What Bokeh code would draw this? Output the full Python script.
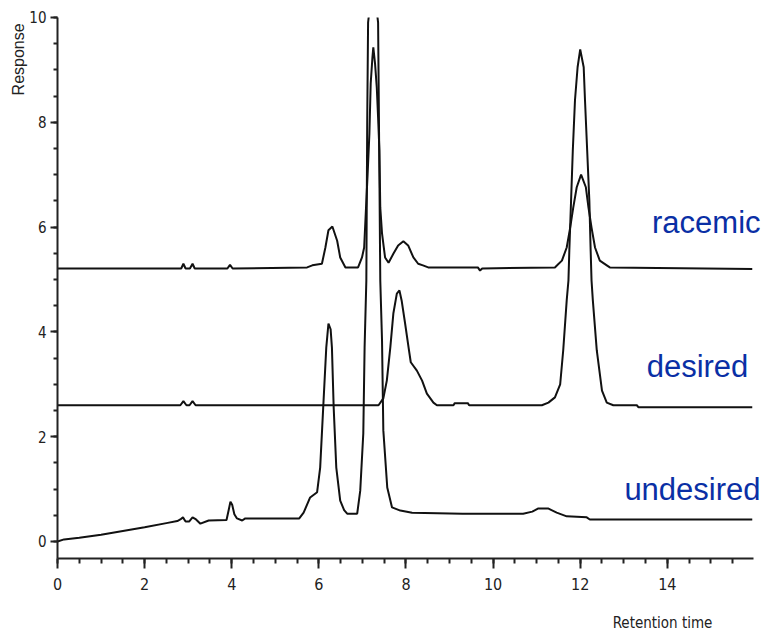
import math
from bokeh.plotting import figure
from bokeh.models import Label, FixedTicker, BoxAnnotation
from bokeh.embed import file_html
from bokeh.resources import INLINE

# ---- data (off-scale apex kept just above 10) ----
undesired_x = [0, 0.15, 0.5, 1.0, 1.5, 2.0, 2.5, 2.75, 2.82, 2.88,
               2.94, 3.02, 3.1, 3.18, 3.28, 3.47, 3.88, 3.93, 3.97, 4.01,
               4.06, 4.12, 4.24, 4.31, 5.55, 5.65, 5.8, 5.96, 6.03, 6.1,
               6.17, 6.22, 6.27, 6.3, 6.34, 6.4, 6.49, 6.58, 6.65, 6.88,
               6.95, 7.02, 7.05, 7.09, 7.11, 7.13, 7.17, 7.25, 7.32, 7.36,
               7.39, 7.41, 7.45, 7.48, 7.57, 7.68, 7.87, 8.14, 9.3, 10.69,
               10.9, 11.04, 11.26, 11.46, 11.69, 12.15, 12.22, 15.95]
undesired_y = [0.0, 0.04, 0.07, 0.13, 0.2, 0.27, 0.35, 0.39, 0.42, 0.46,
               0.38, 0.38, 0.46, 0.42, 0.34, 0.4, 0.41, 0.6, 0.76, 0.7,
               0.52, 0.44, 0.4, 0.44, 0.44, 0.55, 0.84, 0.94, 1.41, 2.56,
               3.7, 4.16, 4.05, 3.7, 2.56, 1.41, 0.78, 0.6, 0.53, 0.53,
               0.97, 2.06, 3.7, 4.98, 8.0, 9.9, 10.2, 10.25, 10.2, 9.9,
               7.0, 4.98, 3.84, 2.12, 1.03, 0.65, 0.59, 0.55, 0.53, 0.53,
               0.57, 0.63, 0.63, 0.55, 0.48, 0.46, 0.42, 0.42]

desired_x = [0, 2.82, 2.89, 2.96, 3.03, 3.1, 3.17, 7.37, 7.48, 7.56,
             7.64, 7.71, 7.79, 7.85, 7.9, 7.98, 8.06, 8.11, 8.25, 8.37,
             8.48, 8.63, 8.71, 9.09, 9.12, 9.42, 9.45, 11.12, 11.27, 11.42,
             11.54, 11.61, 11.69, 11.73, 11.75, 11.79, 11.83, 11.88, 11.94, 12.0,
             12.08, 12.11, 12.16, 12.21, 12.24, 12.26, 12.29, 12.38, 12.5, 12.61,
             12.76, 13.3, 13.34, 15.95]
desired_y = [2.6, 2.6, 2.68, 2.6, 2.6, 2.68, 2.6, 2.6, 2.73, 3.07,
             3.7, 4.35, 4.73, 4.79, 4.6, 4.16, 3.7, 3.42, 3.26, 3.07,
             2.82, 2.65, 2.6, 2.6, 2.64, 2.64, 2.6, 2.6, 2.65, 2.75,
             3.0, 3.65, 4.6, 4.98, 5.55, 6.5, 7.46, 8.42, 9.05, 9.39,
             9.05, 8.42, 7.46, 6.5, 5.55, 4.98, 4.6, 3.65, 2.88, 2.65,
             2.6, 2.6, 2.56, 2.56]

racemic_x = [0, 2.84, 2.89, 2.94, 3.04, 3.1, 3.15, 3.9, 3.96, 4.02,
             5.73, 5.85, 6.07, 6.15, 6.22, 6.31, 6.42, 6.49, 6.61, 6.9,
             6.99, 7.04, 7.09, 7.12, 7.16, 7.19, 7.23, 7.25, 7.29, 7.33,
             7.36, 7.39, 7.41, 7.45, 7.52, 7.6, 7.71, 7.82, 7.94, 8.05,
             8.17, 8.28, 8.39, 8.51, 9.65, 9.7, 9.75, 11.42, 11.47, 11.58,
             11.69, 11.77, 11.84, 11.92, 12.02, 12.13, 12.19, 12.26, 12.34, 12.45,
             12.61, 12.68, 15.95]
racemic_y = [5.21, 5.21, 5.3, 5.21, 5.21, 5.3, 5.21, 5.21, 5.28, 5.21,
             5.23, 5.27, 5.3, 5.61, 5.94, 6.01, 5.74, 5.42, 5.23, 5.23,
             5.42, 5.61, 6.5, 7.02, 7.78, 8.74, 9.24, 9.43, 9.12, 8.66,
             8.09, 7.46, 6.37, 5.88, 5.42, 5.32, 5.49, 5.65, 5.73, 5.65,
             5.42, 5.3, 5.27, 5.23, 5.23, 5.17, 5.21, 5.23, 5.27, 5.36,
             5.61, 5.99, 6.37, 6.76, 7.0, 6.76, 6.37, 5.99, 5.61, 5.36,
             5.27, 5.23, 5.2]

x_major = [0, 2, 4, 6, 8, 10, 12, 14]
x_minor = [0.5 * i for i in range(0, 32)]
y_major = [0, 2, 4, 6, 8, 10]
y_minor = [0.5 * i for i in range(0, 21)]

trace_labels = ["racemic", "desired", "undesired"]
x_title = "Retention time"
y_title = "Response"

NARROW = "'Liberation Sans Narrow', 'Arial Narrow', 'DejaVu Sans Condensed', sans-serif"
SANS = "'Liberation Sans', Arial, sans-serif"
BLUE = "#0a2fa5"
INK = "#222222"

# frame spans the full canvas; axes are pinned at fixed data locations
p = figure(width=763, height=631, x_range=(-1.309, 16.208), y_range=(-1.718, 10.324),
           output_backend="svg", toolbar_location=None,
           min_border_left=0, min_border_right=0, min_border_top=0, min_border_bottom=0)
p.outline_line_color = None
p.xgrid.visible = False
p.ygrid.visible = False
p.background_fill_color = "white"
p.border_fill_color = "white"

for xs, ys in [(undesired_x, undesired_y), (desired_x, desired_y), (racemic_x, racemic_y)]:
    p.line(xs, ys, line_color="#111111", line_width=2)

# the off-scale peak is cut at the top of the response scale
p.add_layout(BoxAnnotation(left=0.05, right=16.5, bottom=10, top=14,
                           fill_color="white", fill_alpha=1.0, line_alpha=0))

xa = p.xaxis[0]
xa.ticker = FixedTicker(ticks=x_major, minor_ticks=x_minor)
xa.bounds = (0, 15.97)
xa.fixed_location = -0.32
ya = p.yaxis[0]
ya.ticker = FixedTicker(ticks=y_major, minor_ticks=y_minor)
ya.bounds = (-0.32, 10)
ya.fixed_location = 0
for ax in (xa, ya):
    ax.axis_line_color = INK
    ax.axis_line_width = 2
    ax.major_tick_line_color = INK
    ax.minor_tick_line_color = INK
    ax.major_tick_line_width = 2
    ax.minor_tick_line_width = 2
    ax.major_tick_in = 0
    ax.minor_tick_in = 0
    ax.major_label_text_font = NARROW
    ax.major_label_text_color = INK
xa.major_tick_out = 10
xa.minor_tick_out = 5
xa.major_label_standoff = 10
xa.major_label_text_font_size = "16px"
ya.major_tick_out = 7
ya.minor_tick_out = 4
ya.major_label_standoff = 4
ya.major_label_text_font_size = "15px"

# axis titles
p.add_layout(Label(x=-0.895, y=9.2, text=y_title, angle=math.pi / 2,
                   text_align="center", text_baseline="middle",
                   text_font=SANS, text_font_size="16px", text_color=INK))
p.add_layout(Label(x=13.89, y=-1.55, text=x_title,
                   text_align="center", text_baseline="alphabetic",
                   text_font=NARROW, text_font_size="15px", text_color=INK))

# trace labels
label_pos = [(16.14, 6.09), (15.86, 3.34), (16.14, 0.99)]
for t, (lx, ly) in zip(trace_labels, label_pos):
    p.add_layout(Label(x=lx, y=ly, text=t, text_align="right", text_baseline="alphabetic",
                       text_font=SANS, text_font_size="31px", text_color=BLUE))

open("out.html", "w").write(file_html(p, INLINE))
